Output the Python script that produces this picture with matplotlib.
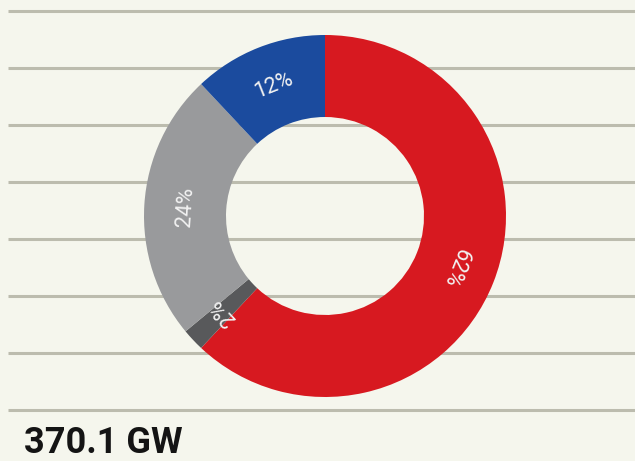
import matplotlib
matplotlib.use("Agg")
import matplotlib.pyplot as plt
import numpy as np

labels = ["Red", "Dark gray", "Gray", "Blue"]
shares = [62, 2, 24, 12]
colors = ["#d71920", "#58595b", "#999a9c", "#1b4b9e"]
total_label = "370.1 GW"

W, H = 635, 461
fig = plt.figure(figsize=(W / 100, H / 100), dpi=100)
fig.patch.set_facecolor("#f5f6ed")
ax = fig.add_axes([0, 0, 1, 1])
ax.set_facecolor("#f5f6ed")

for yp in [11, 68, 125, 182, 239, 296, 353, 410]:
    ax.plot([8, W], [H - yp, H - yp], color="#bcbcae", lw=2.2, zorder=1, solid_capstyle="butt")

cx, cy, R = 325, H - 216, 181
wedges, _ = ax.pie(shares, colors=colors, startangle=90, counterclock=False,
                   center=(cx, cy), radius=R, wedgeprops=dict(width=82, linewidth=0),
                   frame=True)
ax.set_xlim(0, W)
ax.set_ylim(0, H)
ax.set_aspect("equal")
ax.axis("off")
for w in wedges:
    w.set_zorder(2)

for w, s in zip(wedges, shares):
    mid = (w.theta1 + w.theta2) / 2
    r = R - 41
    x = cx + r * np.cos(np.radians(mid))
    y = cy + r * np.sin(np.radians(mid))
    ax.text(x, y, f"{s}%", rotation=mid - 90, rotation_mode="anchor",
            ha="center", va="center", color="#f2f2f2", fontsize=15.5,
            family="Roboto", fontweight="normal", zorder=3)

ax.text(24, H - 439, total_label, ha="left", va="center_baseline", fontsize=26,
        family="Roboto", fontweight="bold", color="#141414", zorder=3)

fig.savefig("out.png", dpi=100, facecolor=fig.get_facecolor())
